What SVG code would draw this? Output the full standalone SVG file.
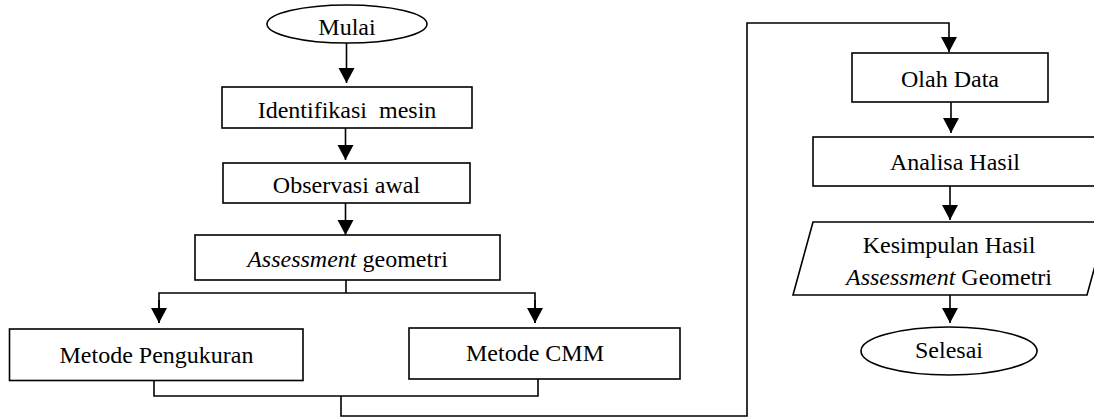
<svg xmlns="http://www.w3.org/2000/svg" width="1094" height="418" viewBox="0 0 1094 418">
<style>
.n{fill:#fff;stroke:#000;stroke-width:1.6}
.t{font-family:"Liberation Serif","Times New Roman",serif;font-size:24px;fill:#000;text-anchor:middle}
.c{fill:none;stroke:#000;stroke-width:1.6}
</style>
<defs>
<marker id="ah" markerUnits="userSpaceOnUse" markerWidth="18" markerHeight="17" refX="15" refY="8" orient="auto">
<path d="M0,0 L15,8 L0,16 Z" fill="#000"/>
</marker>
</defs>
<rect width="1094" height="418" fill="#fff"/>
<g id="connectors">
<path class="c" d="M346.5,43 V83" marker-end="url(#ah)"/>
<path class="c" d="M345.5,128 V160" marker-end="url(#ah)"/>
<path class="c" d="M345.5,203 V235" marker-end="url(#ah)"/>
<path class="c" d="M346,280 V293"/>
<path class="c" d="M159,323 V293 H535 V323" />
<path class="c" d="M159,300 V323" marker-end="url(#ah)"/>
<path class="c" d="M535,300 V323" marker-end="url(#ah)"/>
<path class="c" d="M154,381 V396 H538 V379"/>
<path class="c" d="M341,396 V416 H747 V23 H949 V52" marker-end="url(#ah)"/>
<path class="c" d="M951,102 V133" marker-end="url(#ah)"/>
<path class="c" d="M950,186 V220" marker-end="url(#ah)"/>
<path class="c" d="M950,295 V323" marker-end="url(#ah)"/>
</g>
<g id="mulai">
<ellipse class="n" cx="347" cy="24" rx="80" ry="19"/>
<text class="t" x="347" y="35">Mulai</text>
</g>
<g id="identifikasi">
<rect class="n" x="222" y="87" width="250" height="41"/>
<text class="t" x="347" y="118" xml:space="preserve">Identifikasi  mesin</text>
</g>
<g id="observasi">
<rect class="n" x="223" y="163" width="247" height="40"/>
<text class="t" x="346.5" y="193">Observasi awal</text>
</g>
<g id="assessment">
<rect class="n" x="195" y="235" width="305" height="45"/>
<text class="t" x="347.5" y="267"><tspan font-style="italic">Assessment</tspan> geometri</text>
</g>
<g id="pengukuran">
<rect class="n" x="9.5" y="329" width="293.5" height="51.5"/>
<text class="t" x="156.5" y="363">Metode Pengukuran</text>
</g>
<g id="cmm">
<rect class="n" x="409" y="328" width="271" height="51"/>
<text class="t" x="535" y="361">Metode CMM</text>
</g>
<g id="olah">
<rect class="n" x="852" y="53" width="196" height="49"/>
<text class="t" x="950" y="87">Olah Data</text>
</g>
<g id="analisa">
<rect class="n" x="813" y="137" width="284" height="49"/>
<text class="t" x="955" y="170">Analisa Hasil</text>
</g>
<g id="kesimpulan">
<polygon class="n" points="813,222 1107,222 1087,295 793,295"/>
<text class="t" x="949" y="253">Kesimpulan Hasil</text>
<text class="t" x="949" y="285"><tspan font-style="italic">Assessment</tspan> Geometri</text>
</g>
<g id="selesai">
<ellipse class="n" cx="949" cy="351" rx="88" ry="24"/>
<text class="t" x="949" y="358">Selesai</text>
</g>
</svg>
